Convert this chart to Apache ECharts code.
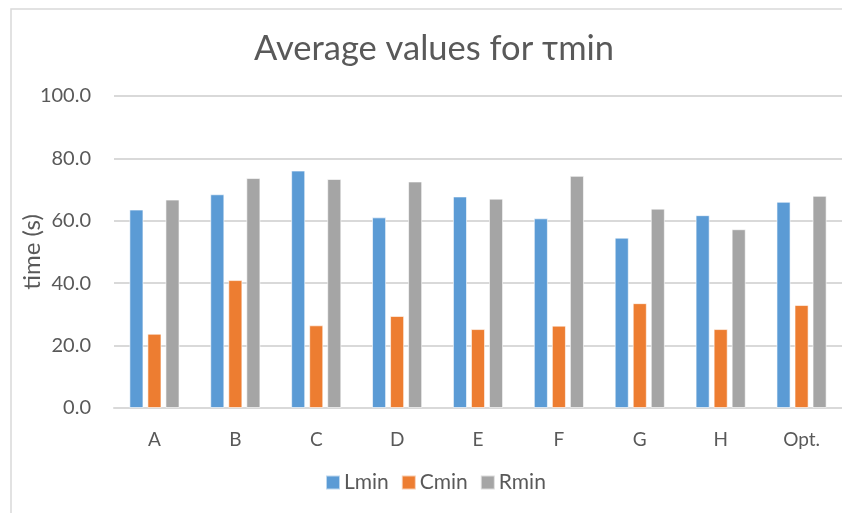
<!DOCTYPE html>
<html>
<head>
<meta charset="utf-8">
<script src="https://cdn.jsdelivr.net/npm/echarts@6/dist/echarts.min.js"></script>
<style>
  html, body { margin: 0; padding: 0; background: #fff; }
  #chart { width: 842px; height: 513px; }
</style>
</head>
<body>
<div id="chart"></div>
<script>
// Categories and the three measured series (seconds)
const categories = ['A', 'B', 'C', 'D', 'E', 'F', 'G', 'H', 'Opt.'];
const lmin = [63.6, 68.5, 76.1, 61.1, 67.8, 60.8, 54.6, 61.8, 66.1];
const cmin = [23.8, 41.0, 26.5, 29.5, 25.3, 26.4, 33.6, 25.3, 33.0];
const rmin = [66.8, 73.7, 73.4, 72.6, 67.1, 74.4, 63.9, 57.3, 68.0];
const seriesNames = ['Lmin', 'Cmin', 'Rmin'];
const yTicks = { min: 0, max: 100, interval: 20 };

const FONT = 'Lato, "Open Sans", sans-serif';
const TEXT = '#595959';

const chart = echarts.init(document.getElementById('chart'), null, { renderer: 'canvas' });

function barSeries(name, data, color) {
  return {
    name: name,
    type: 'bar',
    data: data,
    barGap: '28%',
    barCategoryGap: '38%',
    itemStyle: { color: color, borderColor: 'rgba(255,255,255,0.6)', borderWidth: 1 },
    emphasis: { disabled: true }
  };
}

chart.setOption({
  animation: false,
  backgroundColor: '#fff',
  color: ['#5B9BD5', '#ED7D31', '#A5A5A5'],
  graphic: [{
    type: 'rect',
    shape: { x: 11, y: 9, width: 860, height: 540 },
    style: { fill: 'none', stroke: '#D9D9D9', lineWidth: 1.5 },
    silent: true
  }],
  title: {
    text: 'Average values for τmin',
    left: 429,
    textAlign: 'center',
    top: 26,
    textStyle: { fontFamily: FONT, fontSize: 34.5, fontWeight: 'normal', color: TEXT }
  },
  legend: {
    data: seriesNames,
    bottom: 15,
    left: 320,
    itemWidth: 14,
    itemHeight: 14,
    itemGap: 12,
    icon: 'rect',
    textStyle: { fontFamily: FONT, fontSize: 21, color: TEXT, padding: [0, 0, 0, -1] }
  },
  grid: { left: 114, right: 0, top: 96, bottom: 105, containLabel: false },
  xAxis: {
    type: 'category',
    data: categories,
    axisLine: { lineStyle: { color: '#D9D9D9', width: 2 } },
    axisTick: { show: false },
    axisLabel: { fontFamily: FONT, fontSize: 19, color: TEXT, margin: 22 }
  },
  yAxis: {
    type: 'value',
    min: yTicks.min,
    max: yTicks.max,
    interval: yTicks.interval,
    name: 'time (s)',
    nameLocation: 'middle',
    nameGap: 70,
    nameMoveOverlap: false,
    nameTextStyle: { fontFamily: FONT, fontSize: 24, color: TEXT },
    axisLine: { show: false },
    axisTick: { show: false },
    axisLabel: {
      fontFamily: FONT, fontSize: 20, color: TEXT, margin: 23,
      formatter: v => v.toFixed(1)
    },
    splitLine: { lineStyle: { color: '#D9D9D9', width: 2 } }
  },
  series: [
    barSeries(seriesNames[0], lmin, '#5B9BD5'),
    barSeries(seriesNames[1], cmin, '#ED7D31'),
    barSeries(seriesNames[2], rmin, '#A5A5A5')
  ]
});
</script>
</body>
</html>
